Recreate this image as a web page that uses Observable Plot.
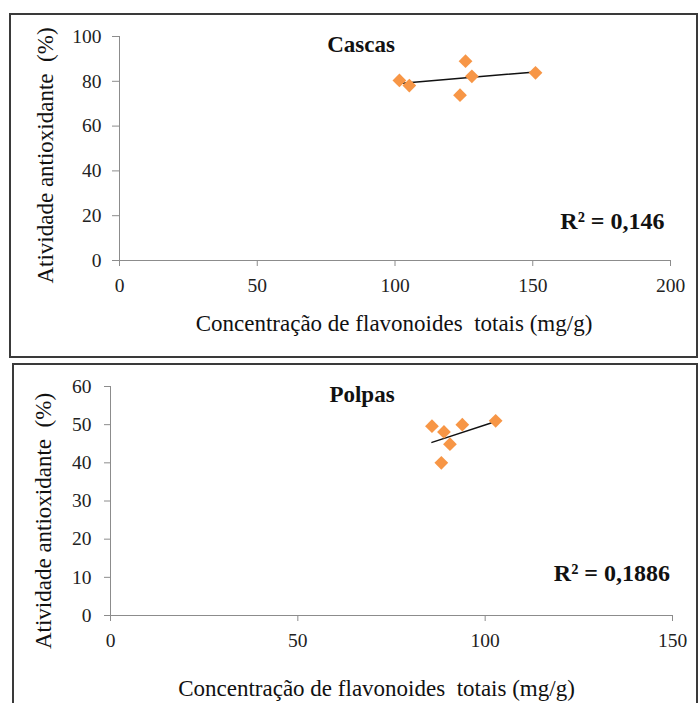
<!DOCTYPE html>
<html>
<head>
<meta charset="utf-8">
<script src="https://cdn.jsdelivr.net/npm/d3@7"></script>
<script src="https://cdn.jsdelivr.net/npm/@observablehq/plot@0.6"></script>
<style>
  html, body { margin: 0; padding: 0; background: #fff; }
  #wrap { position: relative; width: 700px; height: 703px; overflow: hidden; }
  .panel { position: absolute; box-sizing: border-box; border: 2px solid #3a3a3a; pointer-events: none; }
  .chart { position: absolute; left: 0; }
</style>
</head>
<body>
<div id="wrap"></div>
<script>
// ---- Data ----
const cascasX = [101.6, 105.2, 125.6, 127.9, 123.6, 151.0];
const cascasY = [80.4, 78.1, 89.0, 82.2, 73.8, 83.8];
const cascasXTicks = [0, 50, 100, 150, 200];
const cascasYTicks = [0, 20, 40, 60, 80, 100];
const cascasTitle = "Cascas";
const cascasR2 = "R² = 0,146";

const polpasX = [85.8, 89.0, 90.6, 88.3, 93.9, 102.8];
const polpasY = [49.6, 48.1, 44.9, 40.0, 50.0, 51.0];
const polpasXTicks = [0, 50, 100, 150];
const polpasYTicks = [0, 10, 20, 30, 40, 50, 60];
const polpasTitle = "Polpas";
const polpasR2 = "R² = 0,1886";

const xLabel = "Concentração de flavonoides\u00a0 totais (mg/g)";
const yLabel = "Atividade antioxidante\u00a0 (%)";

const wrap = document.getElementById("wrap");
const FONT = "'Liberation Serif', 'Times New Roman', Tinos, serif";

function makePanel(xs, ys, xTicks, yTicks, title, r2, o) {
  const data = xs.map((x, i) => ({x, y: ys[i]}));
  const chart = Plot.plot({
    width: 700,
    height: o.height,
    marginLeft: o.ml, marginRight: o.mr, marginTop: o.mt, marginBottom: o.mb,
    style: {fontFamily: FONT, fontSize: "19.5px", color: "#222", background: "transparent", overflow: "visible"},
    x: {domain: [xTicks[0], xTicks[xTicks.length - 1]]},
    y: {domain: [yTicks[0], yTicks[yTicks.length - 1]]},
    marks: [
      Plot.axisX({ticks: xTicks, tickSize: 6, tickPadding: 12, stroke: "#8c8c8c", fill: "#222", label: null}),
      Plot.axisY({ticks: yTicks, tickSize: o.yTickSize, tickPadding: o.yTickPad, stroke: "#8c8c8c", fill: "#222", label: null}),
      Plot.ruleY([yTicks[0]], {stroke: "#8c8c8c"}),
      Plot.ruleX([xTicks[0]], {stroke: "#8c8c8c"}),
      Plot.linearRegressionY(data, {x: "x", y: "y", ci: 0, stroke: "#111", strokeWidth: 1.5}),
      Plot.dot(data, {x: "x", y: "y", symbol: "diamond2", r: 6.2, fill: "#F79646"}),
      Plot.text([title], {text: d => d, frameAnchor: "top", dx: o.titleDx, dy: o.titleDy, textAnchor: "middle", lineAnchor: "bottom",
        fontWeight: "bold", fontSize: 23, fill: "#111"}),
      Plot.text([r2], {text: d => d, frameAnchor: "bottom-right", dx: o.r2Dx, dy: o.r2Dy, textAnchor: "end", lineAnchor: "bottom",
        fontWeight: "bold", fontSize: 24, fill: "#111"}),
      Plot.text([xLabel], {text: d => d, frameAnchor: "bottom", dx: o.xlDx, dy: o.xlDy, textAnchor: "middle", lineAnchor: "bottom",
        fontSize: 23, fill: "#111"}),
      Plot.text([yLabel], {text: d => d, frameAnchor: "left", dx: o.ylDx, dy: o.ylDy, rotate: -90, textAnchor: "middle", lineAnchor: "middle",
        fontSize: 23, fill: "#111"})
    ]
  });
  chart.classList.add("chart");
  chart.style.top = o.top + "px";
  wrap.appendChild(chart);
}

makePanel(cascasX, cascasY, cascasXTicks, cascasYTicks, cascasTitle, cascasR2, {
  top: 0, height: 360, ml: 119, mr: 30, mt: 36, mb: 100,
  yTickSize: 7, yTickPad: 11,
  titleDx: -34, titleDy: 15.7, r2Dx: -6, r2Dy: -32, xlDx: -1, xlDy: 70, ylDx: -74, ylDy: 7
});

makePanel(polpasX, polpasY, polpasXTicks, polpasYTicks, polpasTitle, polpasR2, {
  top: 360, height: 343, ml: 110, mr: 28, mt: 26, mb: 88,
  yTickSize: 6, yTickPad: 13,
  titleDx: -29.5, titleDy: 15, r2Dx: -2.5, r2Dy: -35, xlDx: -15, xlDy: 80, ylDx: -67, ylDy: 20
});

// panel borders (drawn on top)
const b1 = document.createElement("div");
b1.className = "panel";
Object.assign(b1.style, {left: "9px", top: "13px", width: "689px", height: "345px"});
wrap.appendChild(b1);
const b2 = document.createElement("div");
b2.className = "panel";
Object.assign(b2.style, {left: "12px", top: "363px", width: "686px", height: "360px"});
wrap.appendChild(b2);
</script>
</body>
</html>
